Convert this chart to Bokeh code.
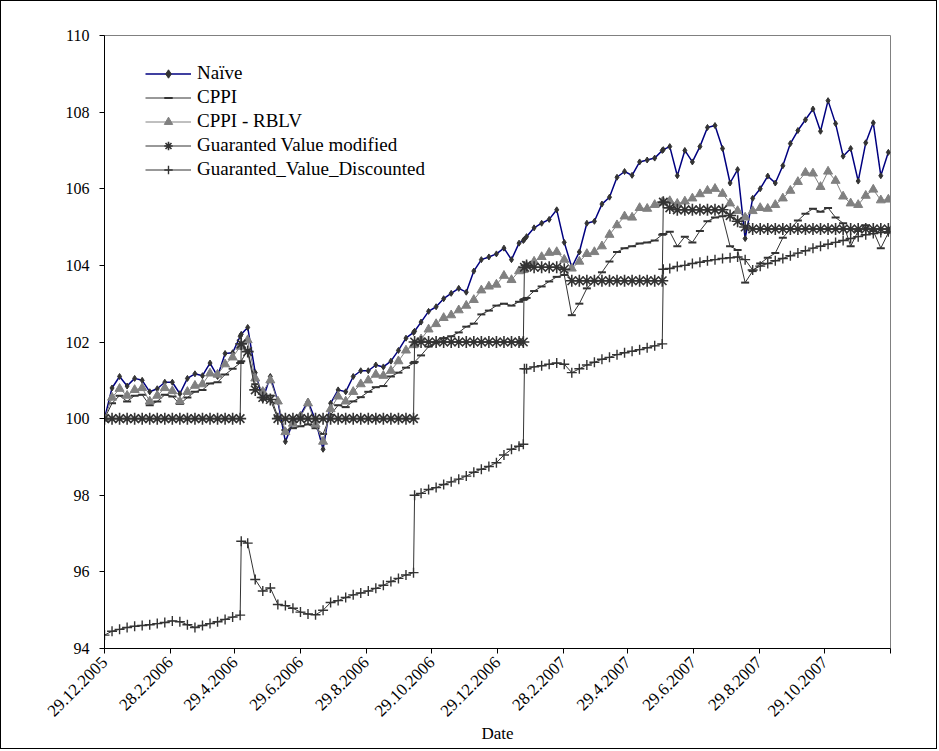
import math
from bokeh.plotting import figure
from bokeh.models import Range1d, FixedTicker
from bokeh.embed import file_html
from bokeh.resources import INLINE

FONT = "Times New Roman, Liberation Serif, serif"

# Observation dates as calendar days after 29.12.2005 (weekly, plus the
# day after each reset of the guarantee so those jumps stay vertical)
days = [0, 7, 14, 21, 28, 35, 42, 49, 56, 63, 70, 77, 84, 91, 98, 105, 112, 119, 126,
        127,
        133, 140, 147, 154, 161, 168, 175, 182, 189, 196, 203, 210, 217, 224, 231, 238,
        245, 252, 259, 266, 273, 280, 287,
        288,
        294, 301, 308, 315, 322, 329, 336, 343, 350, 357, 364, 371, 378, 385,
        389, 390,
        392, 399, 406, 413, 420, 427, 434, 441, 448, 455, 462, 469, 476, 483, 490, 497,
        504, 511, 518,
        519,
        525, 532, 539, 546, 553, 560, 567, 574, 581, 588, 595, 602, 609, 616, 623, 630,
        637, 644, 651, 658, 665, 672, 679, 686, 693, 700, 707, 714, 721, 728]

naive = [100.0, 100.8, 101.1, 100.85, 101.05, 101.0, 100.7, 100.78, 100.95, 100.95,
         100.65, 101.05, 101.17, 101.12, 101.45, 101.1, 101.7, 101.72, 102.15,
         102.2,
         102.38, 101.2, 100.5, 101.1, 100.45, 99.4, 99.9, 100.1, 100.45, 99.95, 99.2,
         100.4, 100.75, 100.7, 101.1, 101.25, 101.25, 101.4, 101.35, 101.5, 101.78,
         102.1, 102.25,
         102.28,
         102.52, 102.8, 102.92, 103.13, 103.27, 103.4, 103.3, 103.85, 104.15, 104.22,
         104.3, 104.45, 104.15, 104.58,
         104.65, 104.68,
         104.75, 104.98, 105.1, 105.2, 105.45, 104.6, 103.95, 104.35, 105.1, 105.15,
         105.6, 105.78, 106.3, 106.45, 106.35, 106.7, 106.75, 106.8, 107.0,
         107.02,
         107.1, 106.34, 107.0, 106.7, 107.1, 107.6, 107.65, 107.05, 106.15, 106.5,
         104.7, 105.75, 106.0, 106.33, 106.15, 106.6, 107.18, 107.52, 107.8, 108.08,
         107.5, 108.3, 107.7, 106.85, 107.05, 106.2, 107.2, 107.72, 106.34, 106.95]

cppi = [100.0, 100.4, 100.6, 100.45, 100.6, 100.62, 100.35, 100.45, 100.62, 100.58,
        100.38, 100.55, 100.7, 100.75, 100.92, 100.95, 101.15, 101.3, 101.45,
        101.5,
        101.8, 100.9, 100.55, 100.6, 100.05, 99.7, 99.75, 99.8, 99.85, 99.75, 99.6,
        100.1, 100.35, 100.3, 100.45, 100.56, 100.7, 100.82, 100.85, 101.1, 101.2,
        101.33, 101.45,
        101.48,
        101.65, 101.88, 101.98, 102.1, 102.15, 102.25, 102.4, 102.48, 102.72, 102.82,
        102.95, 103.0, 102.95, 103.05,
        103.1, 103.12,
        103.15, 103.33, 103.45, 103.58, 103.7, 103.75, 102.7, 103.0, 103.4, 103.6,
        103.82, 104.1, 104.35, 104.45, 104.5, 104.57, 104.6, 104.65, 104.8,
        104.82,
        104.88, 104.5, 104.75, 104.6, 104.9, 105.15, 105.25, 105.28, 104.5, 104.4,
        103.55, 103.85, 104.05, 104.2, 104.32, 104.72, 104.95, 105.17, 105.35, 105.48,
        105.4, 105.5, 105.25, 105.1, 104.5, 104.9, 105.05, 104.9, 104.45, 104.85]

cppi_rblv = [100.0, 100.55, 100.78, 100.6, 100.75, 100.8, 100.45, 100.6, 100.8, 100.72,
             100.45, 100.7, 100.86, 100.9, 101.18, 101.15, 101.42, 101.6, 101.88,
             101.92,
             102.05, 101.05, 100.7, 101.0, 100.45, 99.65, 99.87, 100.05, 100.4, 99.85,
             99.4, 100.25, 100.58, 100.45, 100.7, 100.9, 101.0, 101.15, 101.12, 101.25,
             101.5, 101.78, 101.92,
             101.94,
             102.07, 102.33, 102.47, 102.63, 102.7, 102.83, 102.95, 103.1, 103.35, 103.45,
             103.5, 103.73, 103.62, 103.85,
             103.88, 103.9,
             103.98, 104.1, 104.22, 104.33, 104.35, 104.15, 103.92, 104.1, 104.3, 104.35,
             104.5, 104.8, 105.05, 105.28, 105.25, 105.5, 105.48, 105.58, 105.65,
             105.65,
             105.68, 105.61, 105.67, 105.75, 105.86, 105.95, 106.0, 105.87, 105.62, 105.42,
             105.25, 105.42, 105.5, 105.48, 105.58, 105.75, 105.95, 106.18, 106.42, 106.4,
             106.05, 106.45, 106.21, 105.8, 105.62, 105.58, 105.82, 105.98, 105.7, 105.72]

guaranteed_modified = [100.0] * 19 + [101.95] + \
    [101.75, 100.75, 100.55, 100.5] + [100.0] * 19 + \
    [102.0] + [102.0] * 14 + \
    [102.0, 103.95] + \
    [104.0, 103.95, 103.95, 103.95, 103.95, 103.9] + [103.6] * 13 + \
    [105.65] + \
    [105.5] + [105.45] * 7 + [105.3, 105.15, 105.0] + [104.95] * 19

guaranteed_discounted = [94.35, 94.45, 94.5, 94.55, 94.58, 94.6, 94.62, 94.65, 94.68, 94.72,
                         94.7, 94.62, 94.55, 94.6, 94.65, 94.7, 94.76, 94.82, 94.87,
                         96.8,
                         96.75, 95.8, 95.5, 95.58, 95.15, 95.12, 95.05, 94.95, 94.9, 94.88,
                         95.0, 95.2, 95.25, 95.33, 95.4, 95.45, 95.5, 95.57, 95.65, 95.75,
                         95.83, 95.92, 95.98,
                         98.0,
                         98.05, 98.15, 98.2, 98.28, 98.35, 98.42, 98.5, 98.6, 98.68, 98.75,
                         98.85, 99.05, 99.2, 99.28,
                         99.33, 101.3,
                         101.3, 101.35, 101.38, 101.42, 101.45, 101.42, 101.2, 101.3, 101.4,
                         101.47, 101.55, 101.6, 101.67, 101.72, 101.76, 101.8, 101.85, 101.9,
                         101.95,
                         103.9,
                         103.92, 103.97, 104.0, 104.05, 104.08, 104.12, 104.15, 104.18, 104.2,
                         104.22, 104.15, 103.88, 103.98, 104.05, 104.12, 104.18, 104.25,
                         104.32, 104.38, 104.45, 104.5, 104.55, 104.6, 104.65, 104.7, 104.75,
                         104.8, 104.83, 104.86, 104.88]

tick_days = [0, 61, 121, 182, 243, 304, 365, 426, 486, 547, 608, 669, 730]
tick_labels = ["29.12.2005", "28.2.2006", "29.4.2006", "29.6.2006", "29.8.2006",
               "29.10.2006", "29.12.2006", "28.2.2007", "29.4.2007", "29.6.2007",
               "29.8.2007", "29.10.2007", ""]
y_ticks = [94, 96, 98, 100, 102, 104, 106, 108, 110]

p = figure(width=937, height=749,
           x_range=Range1d(0, 730), y_range=Range1d(94, 110),
           output_backend="svg", toolbar_location=None,
           min_border_left=103, min_border_right=48,
           min_border_top=34, min_border_bottom=102)
p.styles = {"border": "1px solid black"}
p.background_fill_color = "white"
p.border_fill_color = "white"
p.outline_line_color = "#808080"
p.outline_line_width = 1
p.xgrid.visible = False
p.ygrid.visible = False

DARK = "#333333"

p.line(days, naive, line_color="#000080", line_width=1.5, legend_label="Naïve")
p.scatter(days, naive, marker="diamond", size=6, fill_color=DARK, line_color=DARK,
          legend_label="Naïve")

p.line(days, cppi, line_color=DARK, line_width=1, legend_label="CPPI")
p.scatter(days, cppi, marker="dash", size=8, line_color=DARK, line_width=2,
          legend_label="CPPI")

p.line(days, cppi_rblv, line_color="#808080", line_width=1, legend_label="CPPI - RBLV")
p.scatter(days, cppi_rblv, marker="triangle", size=9, fill_color="#808080",
          line_color="#808080", legend_label="CPPI - RBLV")

p.line(days, guaranteed_modified, line_color=DARK, line_width=1,
       legend_label="Guaranted Value modified")
p.scatter(days, guaranteed_modified, marker="asterisk", size=12, line_color=DARK,
          line_width=1.6, legend_label="Guaranted Value modified")

p.line(days, guaranteed_discounted, line_color=DARK, line_width=1,
       legend_label="Guaranted_Value_Discounted")
p.scatter(days, guaranteed_discounted, marker="cross", size=10, line_color=DARK,
          line_width=1.4, legend_label="Guaranted_Value_Discounted")

# axes
xa = p.xaxis[0]
xa.ticker = FixedTicker(ticks=tick_days)
xa.major_label_overrides = {d: lab for d, lab in zip(tick_days, tick_labels)}
xa.major_label_orientation = math.pi / 4
xa.major_tick_in = 0
xa.major_tick_out = 5
xa.minor_tick_line_color = None
xa.axis_line_color = "black"
xa.major_tick_line_color = "black"
xa.major_label_standoff = 6
xa.major_label_text_font = FONT
xa.major_label_text_font_size = "17px"
xa.major_label_text_color = "black"
xa.axis_label = "Date"
xa.axis_label_text_font = FONT
xa.axis_label_text_font_size = "17px"
xa.axis_label_text_font_style = "normal"
xa.axis_label_text_color = "black"
xa.axis_label_standoff = 0

ya = p.yaxis[0]
ya.ticker = FixedTicker(ticks=y_ticks)
ya.major_tick_in = 0
ya.major_tick_out = 5
ya.minor_tick_line_color = None
ya.axis_line_color = "black"
ya.major_tick_line_color = "black"
ya.major_label_standoff = 10
ya.major_label_text_font = FONT
ya.major_label_text_font_size = "16px"
ya.major_label_text_color = "black"

# legend
lg = p.legend[0]
lg.location = (36, 463)
lg.padding = 5
lg.spacing = 2
lg.glyph_width = 46
lg.glyph_height = 21
lg.label_height = 21
lg.label_standoff = 6
lg.label_text_font = FONT
lg.label_text_font_size = "19px"
lg.label_text_color = "black"
lg.border_line_alpha = 0
lg.background_fill_alpha = 0

open("out.html", "w").write(file_html(p, INLINE))
